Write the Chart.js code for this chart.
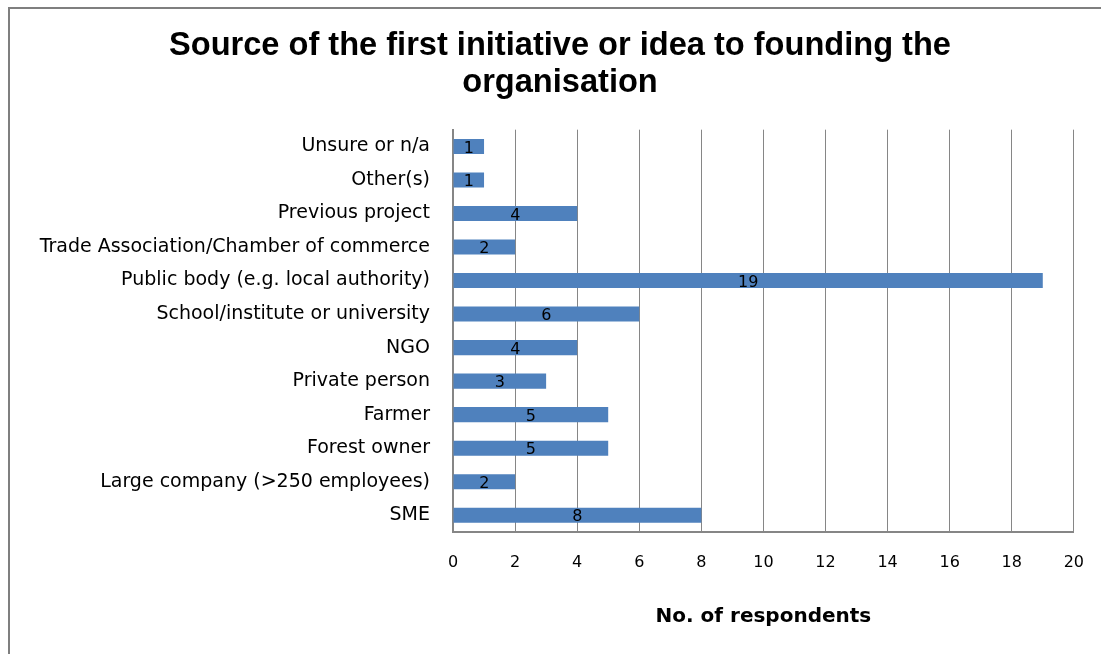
<!DOCTYPE html>
<html>
<head>
<meta charset="utf-8">
<title>Source of the first initiative</title>
<script src="https://cdn.jsdelivr.net/npm/chart.js@4.4.1/dist/chart.umd.min.js"></script>
<style>
  html, body { margin: 0; padding: 0; background: #fff; overflow: hidden; }
  #frame {
    position: absolute; left: 8px; top: 7px; width: 1200px; height: 700px;
    border-top: 2px solid #7f7f7f; border-left: 2px solid #7f7f7f;
  }
  #wrap { position: absolute; left: 0; top: 0; width: 1105px; height: 654px; }
</style>
</head>
<body>
<div id="frame"></div>
<div id="wrap"><canvas id="barchart"></canvas></div>
<script>
var categories = [
  "Unsure or n/a",
  "Other(s)",
  "Previous project",
  "Trade Association/Chamber of commerce",
  "Public body (e.g. local authority)",
  "School/institute or university",
  "NGO",
  "Private person",
  "Farmer",
  "Forest owner",
  "Large company (>250 employees)",
  "SME"
];
var respondents = [1, 1, 4, 2, 19, 6, 4, 3, 5, 5, 2, 8];
var xTicks = [0, 2, 4, 6, 8, 10, 12, 14, 16, 18, 20];

var gridGrey = '#868686';
var labelFont = "'DejaVu Sans', sans-serif";

// value written in the middle of each bar
var barValues = {
  id: 'barValues',
  afterDatasetsDraw: function (chart) {
    var ctx = chart.ctx;
    var meta = chart.getDatasetMeta(0);
    ctx.save();
    ctx.fillStyle = '#000';
    ctx.font = '16px ' + labelFont;
    ctx.textAlign = 'center';
    ctx.textBaseline = 'middle';
    meta.data.forEach(function (bar, i) {
      var cx = (bar.base + bar.x) / 2;
      ctx.fillText(String(respondents[i]), cx, bar.y + 2);
    });
    ctx.restore();
  }
};

var ctx = document.getElementById("barchart");
var barchart = new Chart(ctx, {
  type: 'bar',
  data: {
    labels: categories,
    datasets: [{
      label: 'No. of respondents',
      data: respondents,
      backgroundColor: '#4f81bd',
      borderWidth: 0,
      barPercentage: 0.45,
      categoryPercentage: 1
    }]
  },
  options: {
    indexAxis: 'y',
    responsive: true,
    maintainAspectRatio: false,
    animation: false,
    // uneven side padding puts the title centre at x = 560
    layout: { padding: { left: 30, right: 15, top: 0, bottom: 0 } },
    plugins: {
      legend: { display: false },
      tooltip: { enabled: false },
      title: {
        display: true,
        text: ["Source of the first initiative or idea to founding the", "organisation"],
        color: '#000',
        font: { family: "'Liberation Sans', Arial, sans-serif", size: 32.6, weight: 'bold', lineHeight: 1.13 },
        padding: { top: 28, bottom: 28 }
      }
    },
    scales: {
      x: {
        min: 0,
        max: 20,
        afterBuildTicks: function (scale) {
          scale.ticks = xTicks.map(function (v) { return { value: v }; });
        },
        afterFit: function (scale) { scale.height = 122; },
        grid: { color: gridGrey, lineWidth: 1, drawTicks: false },
        border: { display: true, color: gridGrey, width: 2 },
        ticks: { color: '#000', padding: 21, font: { family: labelFont, size: 16 } },
        title: {
          display: true,
          text: 'No. of respondents',
          color: '#000',
          font: { family: labelFont, size: 20, weight: 'bold' },
          padding: { top: 0, bottom: 25 }
        }
      },
      y: {
        afterFit: function (scale) { scale.width = 423; },
        grid: { display: false, drawTicks: false },
        border: { display: true, color: gridGrey, width: 2 },
        ticks: { color: '#000', padding: 23, font: { family: labelFont, size: 19 } }
      }
    }
  },
  plugins: [barValues]
});
</script>
</body>
</html>
